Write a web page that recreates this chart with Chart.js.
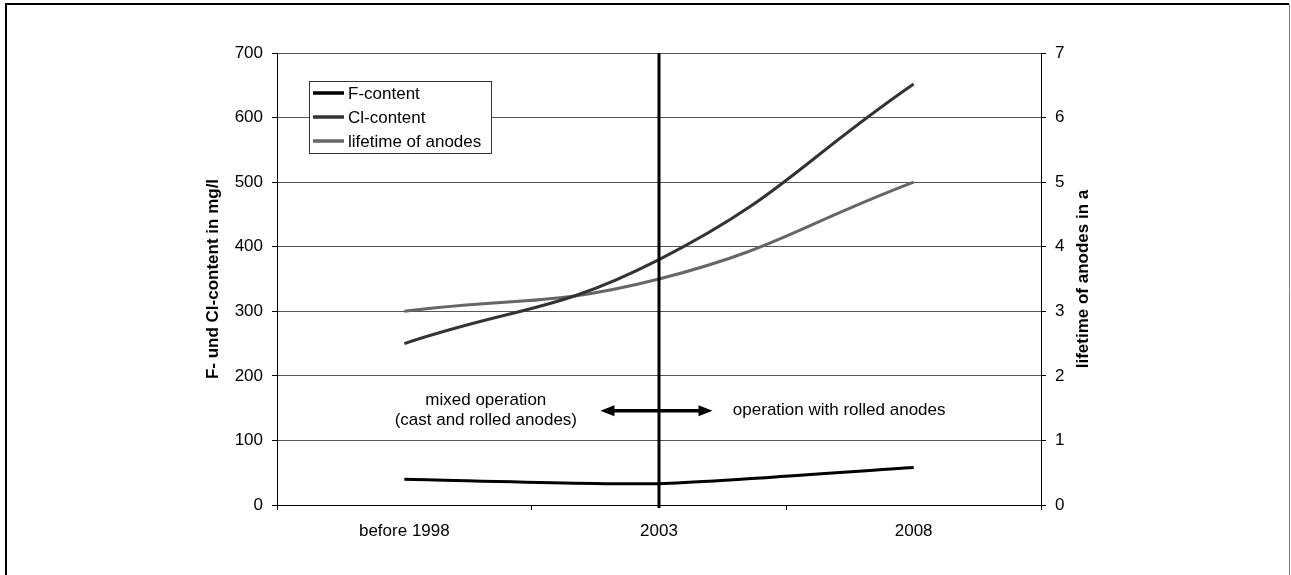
<!DOCTYPE html>
<html>
<head>
<meta charset="utf-8">
<title>F- und Cl-content</title>
<script src="https://cdn.jsdelivr.net/npm/chart.js@4/dist/chart.umd.min.js"></script>
<style>
  html, body { margin: 0; padding: 0; background: #fff; }
  #wrap { width: 1291px; height: 575px; position: relative; }
</style>
</head>
<body>
<div id="wrap"><canvas id="chart"></canvas></div>
<script>
Chart.defaults.font.family = "'Liberation Sans', Arial, sans-serif";
Chart.defaults.font.size = 17;
Chart.defaults.color = '#000';

// Messwerte
const years = ['before 1998', '2003', '2008'];
const fContent = [40, 33, 58];          // mg/l
const clContent = [250, 380, 652];      // mg/l
const lifetime = [3.0, 3.5, 5.0];       // a

// Achsen
const leftMax = 700, leftStep = 100;
const rightMax = 7, rightStep = 1;

// Umstellung auf gewalzte Anoden
const changeYear = '2003';
const noteLeft = ['mixed operation', '(cast and rolled anodes)'];
const noteRight = 'operation with rolled anodes';
const rightTitle = 'lifetime of anodes in a';

// Rahmen, Trennlinie, Pfeil, Beschriftungen und Legende
const extras = {
    id: 'extras',
    beforeDraw(chart) {
        const ctx = chart.ctx;
        ctx.save();
        ctx.fillStyle = '#fff';
        ctx.fillRect(0, 0, chart.width, chart.height);
        ctx.restore();
    },
    afterDraw(chart) {
        const { ctx, chartArea, scales } = chart;
        const x = scales.x, y = scales.y, y1 = scales.y1;
        ctx.save();

        // äußerer Rahmen
        ctx.strokeStyle = '#000';
        ctx.lineWidth = 2;
        ctx.beginPath();
        ctx.moveTo(6, chart.height);
        ctx.lineTo(6, 4);
        ctx.lineTo(1289, 4);
        ctx.stroke();
        ctx.strokeStyle = '#808080';
        ctx.lineWidth = 1;
        ctx.beginPath();
        ctx.moveTo(1289.5, 4);
        ctx.lineTo(1289.5, chart.height);
        ctx.stroke();

        // senkrechte Linie bei 2003
        const xc = x.getPixelForValue(years.indexOf(changeYear));
        ctx.strokeStyle = '#000';
        ctx.lineWidth = 3;
        ctx.beginPath();
        ctx.moveTo(xc, chartArea.top);
        ctx.lineTo(xc, chartArea.bottom + 3);
        ctx.stroke();

        // Doppelpfeil
        const ay = y.getPixelForValue(146);
        const ax1 = x.getPixelForValue(0.77);
        const ax2 = x.getPixelForValue(1.21);
        const head = 14, half = 5.5;
        ctx.lineWidth = 3.5;
        ctx.beginPath();
        ctx.moveTo(ax1 + head - 2, ay);
        ctx.lineTo(ax2 - head + 2, ay);
        ctx.stroke();
        ctx.fillStyle = '#000';
        ctx.beginPath();
        ctx.moveTo(ax1, ay);
        ctx.lineTo(ax1 + head, ay - half);
        ctx.lineTo(ax1 + head, ay + half);
        ctx.closePath();
        ctx.fill();
        ctx.beginPath();
        ctx.moveTo(ax2, ay);
        ctx.lineTo(ax2 - head, ay - half);
        ctx.lineTo(ax2 - head, ay + half);
        ctx.closePath();
        ctx.fill();

        // Texte
        ctx.font = "17px 'Liberation Sans', Arial, sans-serif";
        ctx.textBaseline = 'middle';
        ctx.textAlign = 'center';
        const nx = x.getPixelForValue(0.32);
        ctx.fillText(noteLeft[0], nx, y.getPixelForValue(162));
        ctx.fillText(noteLeft[1], nx, y.getPixelForValue(131));
        ctx.textAlign = 'left';
        ctx.fillText(noteRight, x.getPixelForValue(1.29), y.getPixelForValue(146));

        // rechter Achsentitel, von unten nach oben gelesen
        ctx.save();
        ctx.font = "bold 17px 'Liberation Sans', Arial, sans-serif";
        ctx.textAlign = 'center';
        ctx.translate(y1.right - 14, (chartArea.top + chartArea.bottom) / 2);
        ctx.rotate(-Math.PI / 2);
        ctx.fillText(rightTitle, 0, 0);
        ctx.restore();

        // Legende
        const lx = 309.5, ly = 81.5, lw = 182, lh = 72;
        ctx.fillStyle = '#fff';
        ctx.fillRect(lx, ly, lw, lh);
        ctx.strokeStyle = '#333';
        ctx.lineWidth = 1;
        ctx.strokeRect(lx, ly, lw, lh);
        ctx.font = "17px 'Liberation Sans', Arial, sans-serif";
        ctx.textAlign = 'left';
        chart.data.datasets.forEach((ds, i) => {
            const ey = 93 + i * 24;
            ctx.strokeStyle = ds.borderColor;
            ctx.lineWidth = 3.5;
            ctx.beginPath();
            ctx.moveTo(313, ey);
            ctx.lineTo(344, ey);
            ctx.stroke();
            ctx.fillStyle = '#000';
            ctx.fillText(ds.label, 348, ey + 1);
        });

        ctx.restore();
    }
};

new Chart(document.getElementById('chart'), {
    type: 'line',
    data: {
        labels: years,
        datasets: [{
            label: 'F-content',
            data: fContent,
            yAxisID: 'y',
            borderColor: '#000000',
            borderWidth: 3,
            tension: 0.2,
            pointRadius: 0
        }, {
            label: 'Cl-content',
            data: clContent,
            yAxisID: 'y',
            borderColor: '#333333',
            borderWidth: 3,
            tension: 0.45,
            pointRadius: 0
        }, {
            label: 'lifetime of anodes',
            data: lifetime,
            yAxisID: 'y1',
            borderColor: '#666666',
            borderWidth: 3,
            tension: 0.45,
            pointRadius: 0
        }]
    },
    options: {
        responsive: true,
        maintainAspectRatio: false,
        animation: false,
        layout: { padding: { left: 199, right: 194, top: 53, bottom: 0 } },
        plugins: {
            legend: { display: false },
            tooltip: { enabled: false }
        },
        scales: {
            x: {
                offset: true,
                grid: { offset: true, drawOnChartArea: false, color: '#000', tickLength: 5 },
                border: { color: '#000', width: 1 },
                ticks: { padding: 11, maxRotation: 0 },
                afterFit(scale) { scale.height = 70; }
            },
            y: {
                position: 'left',
                min: 0,
                max: leftMax,
                ticks: { stepSize: leftStep, padding: 9 },
                grid: { color: '#555', tickColor: '#000', tickLength: 5 },
                border: { color: '#000', width: 1 },
                title: {
                    display: true,
                    text: 'F- und Cl-content in mg/l',
                    font: { weight: 'bold', size: 17 }
                },
                afterFit(scale) { scale.width = 78; }
            },
            y1: {
                position: 'right',
                min: 0,
                max: rightMax,
                ticks: { stepSize: rightStep, padding: 9 },
                grid: { drawOnChartArea: false, tickColor: '#000', tickLength: 5 },
                border: { color: '#000', width: 1 },
                afterFit(scale) { scale.width = 56; }
            }
        }
    },
    plugins: [extras]
});
</script>
</body>
</html>
